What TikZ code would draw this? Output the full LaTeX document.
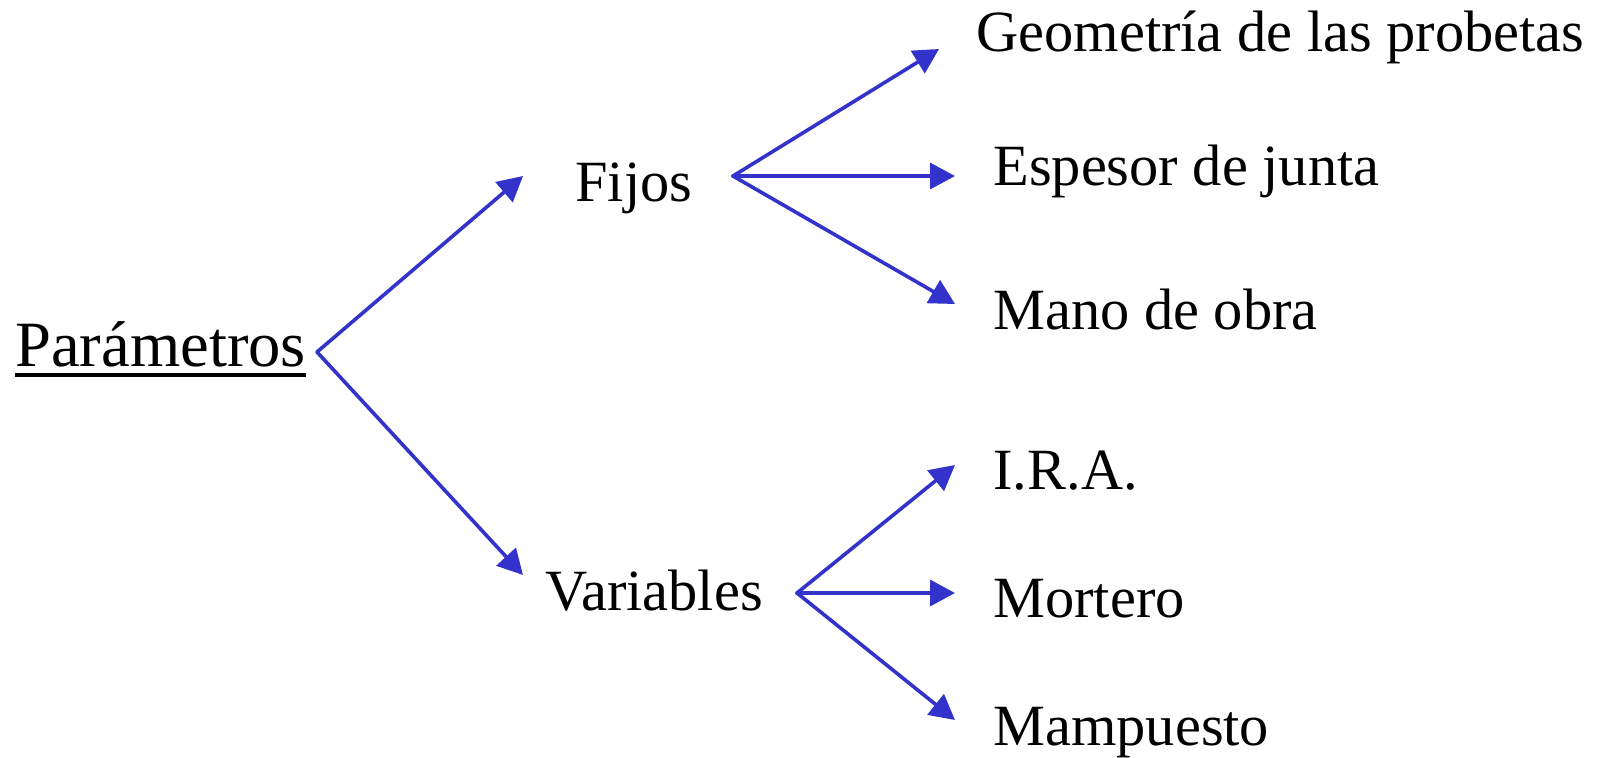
\documentclass[tikz,border=0pt]{standalone}
\usepackage{fontspec}
\setmainfont{Liberation Serif}
\usetikzlibrary{arrows.meta}
\definecolor{arrowblue}{RGB}{51,51,204}
\begin{document}
\begin{tikzpicture}[x=0.5pt,y=-0.5pt,
  lbl/.style={inner sep=0pt, anchor=base west, font=\fontsize{29.2pt}{34pt}\selectfont},
  conn/.style={draw=arrowblue, line width=1.8pt, line cap=round,
    -{Triangle[length=12.5pt,width=13pt,fill=arrowblue]}}]
\useasboundingbox (0,0) rectangle (1602,757);
% labels
\node[lbl, font=\fontsize{32.3pt}{37pt}\selectfont] (par) at (15,366) {Parámetros};
\node[lbl] (fij) at (575,201) {Fijos};
\node[lbl] (var) at (545,610) {Variables};
\node[lbl] (geo) at (976,51) {Geometría de las probetas};
\node[lbl] (esp) at (993,185) {Espesor de junta};
\node[lbl] (man) at (993,329) {Mano de obra};
\node[lbl] (ira) at (993,489) {I.R.A.};
\node[lbl] (mor) at (993,617) {Mortero};
\node[lbl] (mam) at (993,745) {Mampuesto};
% underline
\draw[line width=1.7pt] ([yshift=-4.5pt]par.base west) -- ([yshift=-4.5pt]par.base east);
% branch points and tips
\coordinate (p) at (317,352);
\coordinate (pF) at (523,176);
\coordinate (pV) at (523,575);
\coordinate (f) at (733,176);
\coordinate (fG) at (939,49);
\coordinate (fE) at (955,176);
\coordinate (fM) at (955,304);
\coordinate (v) at (797,593);
\coordinate (vI) at (955,465);
\coordinate (vM) at (955,593);
\coordinate (vP) at (955,720);
% connectors
\draw[conn] (p) -- (pF);
\draw[conn] (p) -- (pV);
\draw[conn] (f) -- (fG);
\draw[conn] (f) -- (fE);
\draw[conn] (f) -- (fM);
\draw[conn] (v) -- (vI);
\draw[conn] (v) -- (vM);
\draw[conn] (v) -- (vP);
\end{tikzpicture}
\end{document}
